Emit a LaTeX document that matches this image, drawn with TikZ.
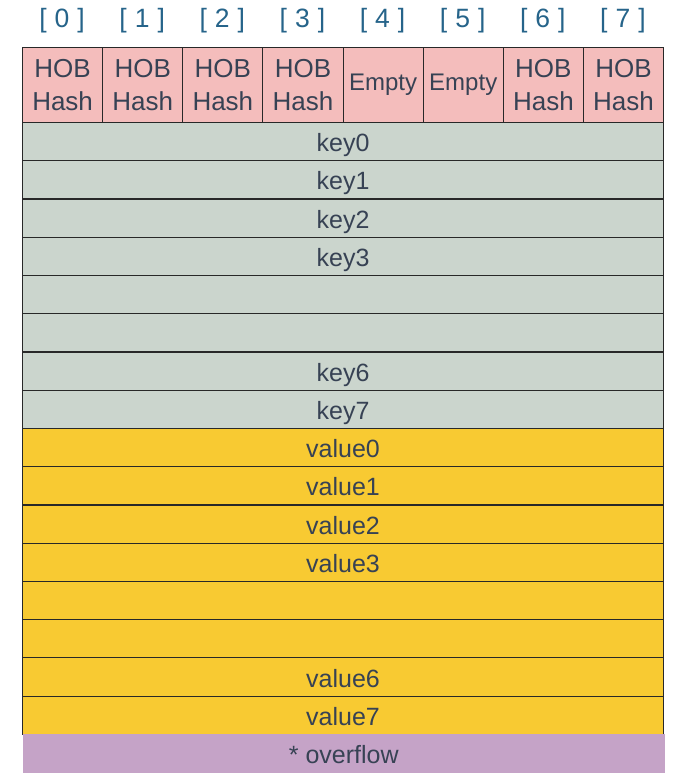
\documentclass[tikz,border=0pt]{standalone}
\usepackage{fontspec}
\setmainfont{Liberation Sans}
\definecolor{hobpink}{RGB}{244,189,188}
\definecolor{keygray}{RGB}{203,213,205}
\definecolor{valyellow}{RGB}{248,202,50}
\definecolor{ovpurple}{RGB}{197,163,199}
\definecolor{txtslate}{RGB}{55,66,84}
\definecolor{idxblue}{RGB}{38,100,138}
\definecolor{edgedark}{RGB}{40,40,40}
\tikzset{
  cell/.style={draw=edgedark, line width=1.1pt, anchor=north west, inner sep=0pt,
    minimum width=80.125pt, minimum height=75pt, fill=hobpink, text=txtslate,
    align=center, font=\fontsize{26}{32.5}\selectfont},
  emptycell/.style={cell, font=\fontsize{24}{29}\selectfont},
  rowbox/.style={draw=edgedark, line width=1.1pt, anchor=north west, inner sep=0pt,
    minimum width=641pt, minimum height=38.24pt, text=txtslate,
    text height=20pt, text depth=0pt,
    font=\fontsize{25}{30}\selectfont},
  keyrow/.style={rowbox, fill=keygray},
  valrow/.style={rowbox, fill=valyellow},
  ovrow/.style={rowbox, draw=none, fill=ovpurple, minimum width=641.5pt},
  idx/.style={text=idxblue, font=\fontsize{26.5}{30}\selectfont}
}
\begin{document}
\begin{tikzpicture}[x=1pt,y=-1pt]
\useasboundingbox[fill=white] (0,0) rectangle (678,781);
% index labels above the tophash slots
\foreach \i in {0,...,7}{
  \node[idx] (idx\i) at ({22+80.125*(\i+0.5)}, 21) {[\hspace{8pt}\i\hspace{8pt}]};
}
% tophash slots
\foreach \i/\t/\s in {0/HOB\\Hash/cell,1/HOB\\Hash/cell,2/HOB\\Hash/cell,3/HOB\\Hash/cell,
                      4/Empty/emptycell,5/Empty/emptycell,6/HOB\\Hash/cell,7/HOB\\Hash/cell}{
  \node[\s] (hob\i) at ({22+80.125*\i}, 47) {\t};
}
% key slots
\foreach \i/\t in {0/key0,1/key1,2/key2,3/key3,4/,5/,6/key6,7/key7}{
  \node[keyrow] (key\i) at (22, {122+38.24*\i}) {\t};
}
% value slots
\foreach \i/\t in {0/value0,1/value1,2/value2,3/value3,4/,5/,6/value6,7/value7}{
  \node[valrow] (val\i) at (22, {122+38.24*(\i+8)}) {\t};
}
% overflow pointer
\node[ovrow] (ovf) at (22.5, {122+38.24*16}) {* overflow};
\end{tikzpicture}
\end{document}
